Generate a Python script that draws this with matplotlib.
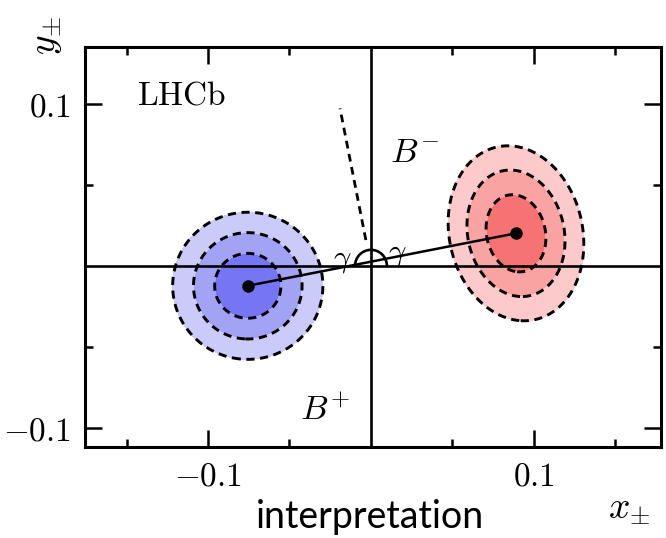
import numpy as np
import matplotlib
matplotlib.use("Agg")
import matplotlib.pyplot as plt
from matplotlib.patches import Arc

plt.rcParams["mathtext.fontset"] = "cm"
plt.rcParams["font.family"] = ["DejaVu Serif"]

# Measured (x, y) central values for B+ and B-
charges = ["B+", "B-"]
x_central = [-0.0756, 0.0890]
y_central = [-0.0122, 0.0202]
sigma_x = [0.0134, 0.0121]
sigma_y = [0.0132, 0.0157]
correlation = [0.0, -0.12]

# Two-dimensional 68.3%, 95.4%, 99.7% CL contours (delta chi2)
delta_chi2 = [2.30, 6.18, 11.83]

# Bisector direction end point used to illustrate the weak phase
bisector_end = (-0.019, 0.0973)

x_ticks = [-0.1, 0.1]
y_ticks = [-0.1, 0.1]
x_tick_labels = [r"$-0.1$", r"$0.1$"]
y_tick_labels = [r"$-0.1$", r"$0.1$"]

fill_colors = {
    "B+": ["#7676f4", "#a3a3f6", "#cbcbfa"],
    "B-": ["#f77272", "#f9a3a3", "#fccaca"],
}

fig = plt.figure(figsize=(6.66, 5.38), dpi=100)
ax = fig.add_axes([85 / 666, 1 - 447 / 538, 576 / 666, 400 / 538])
xlim = (-0.1755, 0.178)
ylim = (-0.1117, 0.1352)
ax.set_xlim(*xlim)
ax.set_ylim(*ylim)

gx = np.linspace(xlim[0], xlim[1], 700)
gy = np.linspace(ylim[0], ylim[1], 700)
GX, GY = np.meshgrid(gx, gy)

for i, name in enumerate(charges):
    u = (GX - x_central[i]) / sigma_x[i]
    v = (GY - y_central[i]) / sigma_y[i]
    r = correlation[i]
    chi2 = (u ** 2 - 2 * r * u * v + v ** 2) / (1 - r ** 2)
    ax.contourf(GX, GY, chi2, levels=[0] + delta_chi2,
                colors=fill_colors[name], zorder=1)
    cs = ax.contour(GX, GY, chi2, levels=delta_chi2, colors="black",
                    linewidths=2.1, linestyles="--", zorder=2)
    for coll in ([cs] if hasattr(cs, "set_dashes") else cs.collections):
        coll.set_dashes([(0, (2.8, 1.9))])

# Axes through the origin
ax.axhline(0, color="black", lw=1.9, zorder=3)
ax.axvline(0, color="black", lw=1.9, zorder=3)

# Line joining the two solutions and their central points
ax.plot(x_central, y_central, color="black", lw=1.8, zorder=4)
ax.plot(x_central, y_central, "o", color="black", ms=8, zorder=5)

# Bisector (dashed) from near the origin
t0 = 0.165
ax.plot([bisector_end[0] * t0, bisector_end[0]],
        [bisector_end[1] * t0, bisector_end[1]],
        color="black", lw=2.0, ls=(0, (2.8, 2.0)), zorder=4)

# Angle arc at the origin
ax.add_patch(Arc((0, 0), 2 * 0.0098, 2 * 0.0100, theta1=0, theta2=180,
                 color="black", lw=1.9, zorder=4))

ax.text(-0.0175, 0.0043, r"$\gamma$", fontsize=22, ha="center", va="center", zorder=6)
ax.text(0.0160, 0.0075, r"$\gamma$", fontsize=22, ha="center", va="center", zorder=6)

ax.text(-0.1436, 0.0994, r"$\mathrm{LHCb}$", fontsize=24, ha="left", va="baseline")
ax.text(0.0117, 0.0642, r"$B^{-}$", fontsize=25, ha="left", va="baseline")
ax.text(-0.0436, -0.0950, r"$B^{+}$", fontsize=25, ha="left", va="baseline")

# Ticks on all four sides, pointing inwards
ax.set_xticks(x_ticks)
ax.set_xticklabels(x_tick_labels, fontsize=24)
ax.set_yticks(y_ticks)
ax.set_yticklabels(y_tick_labels, fontsize=24)
ax.set_xticks([-0.15, -0.05, 0.05, 0.15], minor=True)
ax.set_yticks([-0.05, 0.05], minor=True)
ax.tick_params(which="both", direction="in", top=True, right=True, width=1.8)
ax.tick_params(which="major", length=12, pad=10)
ax.tick_params(which="minor", length=6)
for s in ax.spines.values():
    s.set_linewidth(2.2)

fig.text(608 / 666, 1 - 518 / 538, r"$x_{\pm}$", fontsize=27, ha="left", va="baseline")
fig.text(46 / 666, 1 - 35 / 538, r"$y_{\pm}$", fontsize=27, rotation=90,
         ha="center", va="center")

fig.text(370 / 666, 1 - 528 / 538, "interpretation", fontsize=27,
         family=["Lato", "DejaVu Sans"], ha="center", va="baseline")

fig.savefig("out.png", dpi=100)
